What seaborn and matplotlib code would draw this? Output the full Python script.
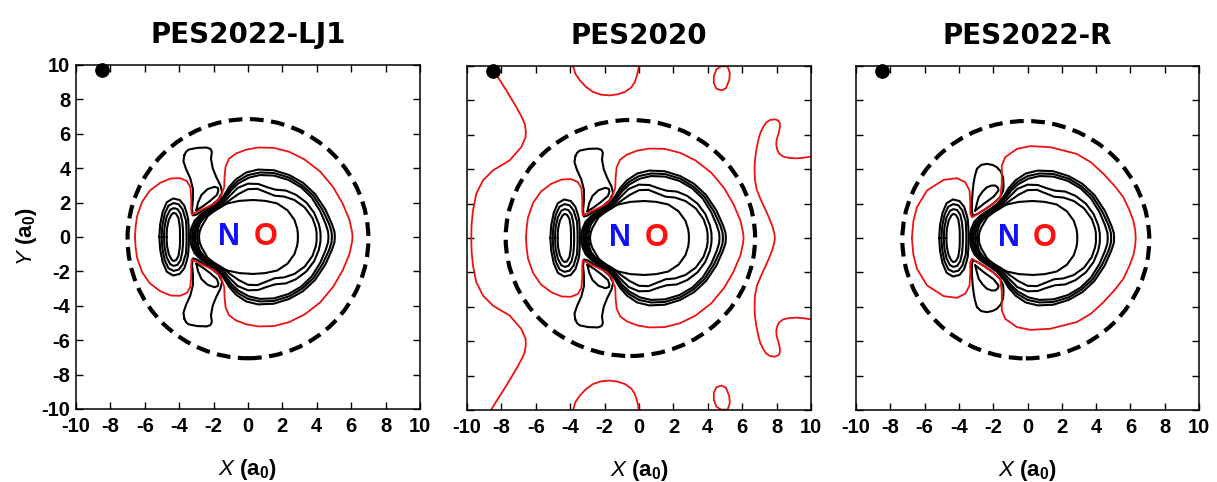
import seaborn as sns
import matplotlib.pyplot as plt
from matplotlib.patches import Ellipse

# panels
titles = ["PES2022-LJ1", "PES2020", "PES2022-R"]
ticks = [-10, -8, -6, -4, -2, 0, 2, 4, 6, 8, 10]

# dashed circle per panel: centre x, centre y, half width, half height
circles = [(0.0, -0.1, 7.0, 6.95), (-0.5, 0.0, 7.25, 6.86), (-0.1, -0.1, 7.2, 6.9)]
dot_xy = (-8.5, 9.7)
atom_n = (-1.1, 0.0)
atom_o = (1.0, 0.0)

# ---- contour traces (upper halves, mirrored about y = 0) ----
# left lobe, four nested rings
lobe1 = [(-5.15, 0), (-5.13, 0.35), (-5.1, 0.75), (-4.96, 1.45), (-4.72, 2.02), (-4.35, 2.24),
         (-3.97, 2.15), (-3.7, 1.82), (-3.55, 1.35), (-3.48, 1.05), (-3.45, 0.6), (-3.44, 0.3), (-3.44, 0)]
lobe2 = [(-5.02, 0), (-5.0, 0.35), (-4.97, 0.7), (-4.84, 1.35), (-4.62, 1.82), (-4.33, 1.97),
         (-4.03, 1.9), (-3.8, 1.6), (-3.68, 1.2), (-3.6, 0.95), (-3.58, 0.5), (-3.57, 0.25), (-3.57, 0)]
lobe3 = [(-4.88, 0), (-4.87, 0.3), (-4.84, 0.65), (-4.72, 1.2), (-4.52, 1.58), (-4.32, 1.68),
         (-4.1, 1.62), (-3.92, 1.35), (-3.82, 0.9), (-3.78, 0.45), (-3.77, 0.2), (-3.77, 0)]
lobe4 = [(-4.73, 0), (-4.72, 0.28), (-4.7, 0.55), (-4.6, 1.0), (-4.45, 1.3), (-4.33, 1.4),
         (-4.18, 1.35), (-4.04, 1.1), (-3.97, 0.65), (-3.95, 0.3), (-3.95, 0)]

# core around N-O
core1 = [(-2.85, 0), (-2.81, 0.3), (-2.7, 0.6), (-2.35, 1.2), (-1.8, 1.65), (-1.2, 1.95), (-0.5, 2.1),
         (0.3, 2.15), (1.0, 2.1), (1.7, 1.95), (2.3, 1.55), (2.7, 1.0), (2.86, 0.5), (2.9, 0.2), (2.9, 0)]
core2 = [(-2.95, 0), (-2.92, 0.3), (-2.88, 0.55), (-2.78, 0.82), (-2.55, 1.12), (-2.1, 1.42),
         (-1.55, 1.75), (-1.05, 2.15), (-0.55, 2.5), (0.0, 2.78), (0.55, 2.8), (1.05, 2.6), (1.55, 2.4),
         (2.1, 2.35), (2.7, 2.15), (3.3, 1.72), (3.75, 1.1), (3.94, 0.55), (3.99, 0.25), (3.99, 0)]
core3 = [(-3.05, 0), (-3.03, 0.3), (-2.98, 0.55), (-2.85, 0.85), (-2.6, 1.15), (-2.15, 1.45),
         (-1.6, 1.8), (-1.1, 2.35), (-0.6, 2.85), (0.0, 3.1), (0.6, 3.08), (1.1, 2.9), (1.6, 2.75),
         (2.2, 2.7), (2.8, 2.45), (3.4, 2.0), (3.85, 1.4), (4.12, 0.75), (4.21, 0.3), (4.22, 0)]
core4 = [(-3.15, 0), (-3.13, 0.3), (-3.08, 0.55), (-2.92, 0.88), (-2.65, 1.2), (-2.2, 1.5),
         (-1.7, 1.85), (-1.3, 2.3), (-0.95, 2.75), (-0.55, 3.12), (0.05, 3.45), (0.7, 3.6), (1.5, 3.57),
         (2.35, 3.32), (3.1, 2.88), (3.7, 2.3), (4.2, 1.5), (4.52, 0.75), (4.66, 0.3), (4.68, 0)]
core5 = [(-3.25, 0), (-3.23, 0.3), (-3.18, 0.55), (-3.0, 0.9), (-2.7, 1.25), (-2.25, 1.55),
         (-1.75, 1.9), (-1.35, 2.35), (-1.0, 2.85), (-0.6, 3.25), (0.0, 3.6), (0.7, 3.75), (1.5, 3.72),
         (2.4, 3.45), (3.15, 3.0), (3.8, 2.4), (4.35, 1.55), (4.72, 0.75), (4.86, 0.3), (4.88, 0)]
core6 = [(-3.35, 0), (-3.33, 0.3), (-3.28, 0.55), (-3.1, 0.95), (-2.75, 1.3), (-2.3, 1.6),
         (-1.8, 1.95), (-1.4, 2.4), (-1.1, 2.9), (-0.7, 3.35), (-0.1, 3.75), (0.6, 3.92), (1.5, 3.88),
         (2.4, 3.6), (3.2, 3.15), (3.9, 2.5), (4.5, 1.6), (4.88, 0.75), (5.03, 0.3), (5.05, 0)]

# wing above the N end (closed loops), PES2022-LJ1 / PES2020
wing_out = [(-3.7, 4.75), (-3.6, 4.95), (-3.45, 5.08), (-2.95, 5.18), (-2.4, 5.2), (-2.18, 5.12),
            (-2.1, 4.95), (-2.15, 4.55), (-2.05, 4.0), (-1.85, 3.5), (-1.6, 3.0), (-1.5, 2.6),
            (-1.7, 2.2), (-2.1, 1.85), (-2.6, 1.55), (-3.0, 1.3), (-3.2, 1.25), (-3.25, 1.6),
            (-3.2, 2.2), (-3.2, 2.8), (-3.35, 3.4), (-3.6, 3.95), (-3.75, 4.4), (-3.7, 4.75)]
wing_in = [(-3.0, 1.55), (-2.9, 2.0), (-2.7, 2.45), (-2.35, 2.78), (-1.95, 2.92), (-1.75, 2.85),
           (-1.72, 2.7), (-1.8, 2.45), (-2.2, 2.1), (-2.6, 1.8), (-3.0, 1.55)]
# wing for PES2022-R
wing_out_r = [(-2.95, 4.02), (-2.7, 4.25), (-2.37, 4.31), (-2.05, 4.25), (-1.79, 4.12), (-1.55, 3.85),
              (-1.42, 3.5), (-1.4, 3.1), (-1.42, 2.76), (-1.6, 2.37), (-2.0, 2.0), (-2.5, 1.65),
              (-2.95, 1.38), (-3.2, 1.3), (-3.24, 1.6), (-3.24, 2.17), (-3.2, 2.7), (-3.15, 3.15),
              (-3.07, 3.6), (-2.95, 4.02)]
wing_in_r = [(-3.05, 1.59), (-2.95, 2.0), (-2.85, 2.37), (-2.62, 2.7), (-2.37, 2.95), (-2.1, 3.05),
             (-1.88, 3.05), (-1.72, 2.92), (-1.69, 2.76), (-1.98, 2.4), (-2.56, 1.98), (-3.05, 1.59)]

# red contour around the complex
red_in = [(-6.57, 0), (-6.53, 0.6), (-6.45, 1.2), (-6.15, 2.05), (-5.7, 2.7), (-5.1, 3.15), (-4.5, 3.4),
          (-3.95, 3.42), (-3.55, 3.25), (-3.35, 2.9), (-3.3, 2.3), (-3.3, 1.6), (-3.27, 1.3),
          (-2.9, 1.5), (-2.4, 1.72), (-1.9, 1.98), (-1.6, 2.3), (-1.38, 2.9), (-1.36, 3.5),
          (-1.3, 4.1), (-1.1, 4.55), (-0.7, 4.85), (-0.1, 5.08), (0.6, 5.2), (1.5, 5.18),
          (2.4, 4.95), (3.3, 4.5), (4.2, 3.8), (4.95, 2.9), (5.5, 1.95), (5.9, 1.0), (6.05, 0.3),
          (6.08, 0)]
red_in_r = [(-6.74, 0), (-6.7, 0.5), (-6.65, 1.0), (-6.45, 1.79), (-5.86, 2.76), (-4.89, 3.38),
            (-4.12, 3.48), (-3.63, 3.24), (-3.38, 2.76), (-3.34, 2.1), (-3.34, 1.4), (-3.24, 1.2),
            (-2.6, 1.6), (-2.0, 2.0), (-1.59, 2.37), (-1.5, 3.15), (-1.5, 4.21), (-1.3, 4.7),
            (-0.62, 5.18), (0.16, 5.34), (1.32, 5.28), (2.87, 4.89), (3.7, 4.4), (4.43, 3.73),
            (5.1, 3.0), (5.59, 2.37), (5.95, 1.6), (6.17, 1.01), (6.28, 0.45), (6.31, 0)]

# extra red contours of PES2020 (long-range part)
red_left = [(-8.6, 10.0), (-8.39, 9.65), (-7.71, 8.58), (-7.13, 7.61), (-6.8, 7.0), (-6.64, 6.64),
            (-6.58, 6.2), (-6.59, 5.87), (-6.84, 5.29), (-7.52, 4.51), (-8.49, 3.93), (-9.07, 3.35),
            (-9.46, 2.57), (-9.65, 1.6), (-9.73, 0.8), (-9.75, 0)]
red_right = [(10.0, 4.73), (9.5, 4.66), (9.17, 4.63), (8.7, 4.66), (8.39, 4.73), (8.15, 4.9),
             (8.04, 5.12), (7.98, 5.4), (8.0, 5.7), (8.12, 6.1), (8.2, 6.47), (8.18, 6.7), (8.1, 6.82),
             (7.9, 6.9), (7.62, 6.86), (7.4, 6.72), (7.23, 6.47), (7.05, 6.1), (6.94, 5.7), (6.82, 5.1),
             (6.74, 4.53), (6.72, 4.0), (6.74, 3.37), (6.85, 2.8), (7.05, 2.3), (7.3, 1.75),
             (7.55, 1.2), (7.75, 0.7), (7.86, 0.3), (7.9, 0)]
red_top_arc = [(-3.83, 10.0), (-3.7, 9.55), (-3.44, 9.17), (-3.1, 8.8), (-2.67, 8.49), (-2.2, 8.33),
               (-1.7, 8.29), (-1.25, 8.35), (-0.82, 8.49), (-0.45, 8.75), (-0.24, 9.07), (-0.1, 9.5),
               (0.0, 10.0)]
red_top_loop = [(4.75, 9.98), (5.15, 9.98), (5.28, 9.6), (5.25, 9.2), (5.05, 8.7), (4.8, 8.58),
                (4.5, 8.68), (4.35, 9.0), (4.35, 9.4), (4.5, 9.8), (4.75, 9.98)]


def mirror_half(half):
    # upper half from y=0 to y=0 -> closed curve
    return half + [(x, -y) for x, y in reversed(half)]


def mirror_open(half):
    # curve that ends on y=0 -> continue below
    return half + [(x, -y) for x, y in reversed(half[:-1])]


def flip(curve):
    return [(x, -y) for x, y in curve]


def trace(ax, pts, color, lw):
    sns.lineplot(x=[p[0] for p in pts], y=[p[1] for p in pts], sort=False, estimator=None,
                 color=color, linewidth=lw, solid_joinstyle="round", solid_capstyle="round", ax=ax)


sns.set_style("ticks")
plt.rcParams["font.family"] = ["Liberation Sans", "DejaVu Sans"]
plt.rcParams["mathtext.fontset"] = "custom"
plt.rcParams["mathtext.it"] = "Liberation Sans:italic"
plt.rcParams["mathtext.rm"] = "Liberation Sans:bold"
plt.rcParams["mathtext.bf"] = "Liberation Sans:bold"
plt.rcParams["axes.unicode_minus"] = False
for key in ("text.color", "axes.labelcolor", "xtick.color", "ytick.color", "axes.edgecolor"):
    plt.rcParams[key] = "black"

fig = plt.figure(figsize=(12.17, 4.82), dpi=100)
boxes = [[0.0624, 0.1515, 0.2827, 0.7137], [0.3837, 0.1494, 0.2827, 0.7137],
         [0.7034, 0.1494, 0.2818, 0.7137]]

RED = "#ee1111"
BLACK_LW = 1.5
RED_LW = 1.3

for i, box in enumerate(boxes):
    ax = fig.add_axes(box)

    for lobe in (lobe1, lobe2, lobe3, lobe4):
        trace(ax, mirror_half(lobe), "black", BLACK_LW)
    for c in (core1, core2, core3, core4, core5, core6):
        trace(ax, mirror_half(c), "black", BLACK_LW)

    if i == 2:
        w_out, w_in, red = wing_out_r, wing_in_r, red_in_r
    else:
        w_out, w_in, red = wing_out, wing_in, red_in
    for w in (w_out, w_in):
        trace(ax, w, "black", BLACK_LW)
        trace(ax, flip(w), "black", BLACK_LW)
    trace(ax, mirror_half(red), RED, RED_LW)

    if i == 1:
        trace(ax, mirror_open(red_left), RED, RED_LW)
        trace(ax, mirror_open(red_right), RED, RED_LW)
        for c in (red_top_arc, red_top_loop):
            trace(ax, c, RED, RED_LW)
            trace(ax, flip(c), RED, RED_LW)

    cx, cy, rx, ry = circles[i]
    ax.add_patch(Ellipse((cx, cy), 2 * rx, 2 * ry, fill=False, color="black", lw=3.0,
                         linestyle=(0, (3.3, 1.8)), zorder=4))

    sns.scatterplot(x=[dot_xy[0]], y=[dot_xy[1]], s=95, color="black", edgecolor="black",
                    clip_on=False, zorder=6, ax=ax)

    ax.text(atom_n[0], atom_n[1], "N", color="#1010ff", fontsize=22, fontweight="bold",
            ha="center", va="center", zorder=7)
    ax.text(atom_o[0], atom_o[1], "O", color="#ff1010", fontsize=22, fontweight="bold",
            ha="center", va="center", zorder=7)

    ax.set_xlim(-10, 10)
    ax.set_ylim(-10, 10)
    ax.set_xticks(ticks)
    ax.set_yticks(ticks)
    ax.tick_params(direction="in", length=5, width=1, top=True, right=True, labelsize=14.5)
    ax.tick_params(axis="x", pad=6)
    ax.tick_params(axis="y", pad=4)
    for lab in ax.get_xticklabels() + ax.get_yticklabels():
        lab.set_fontweight("bold")
    for sp in ax.spines.values():
        sp.set_linewidth(1.1)
    if i > 0:
        ax.set_yticklabels([])
    ax.set_title(titles[i], fontsize=20, fontweight="bold", family="DejaVu Sans", pad=16)
    ax.set_xlabel("$X$ (a$_0$)", fontsize=16, fontweight="bold", labelpad=15)
    if i == 0:
        ax.set_ylabel("$Y$ (a$_0$)", fontsize=16, fontweight="bold", labelpad=2)

plt.savefig("out.png", dpi=100)
